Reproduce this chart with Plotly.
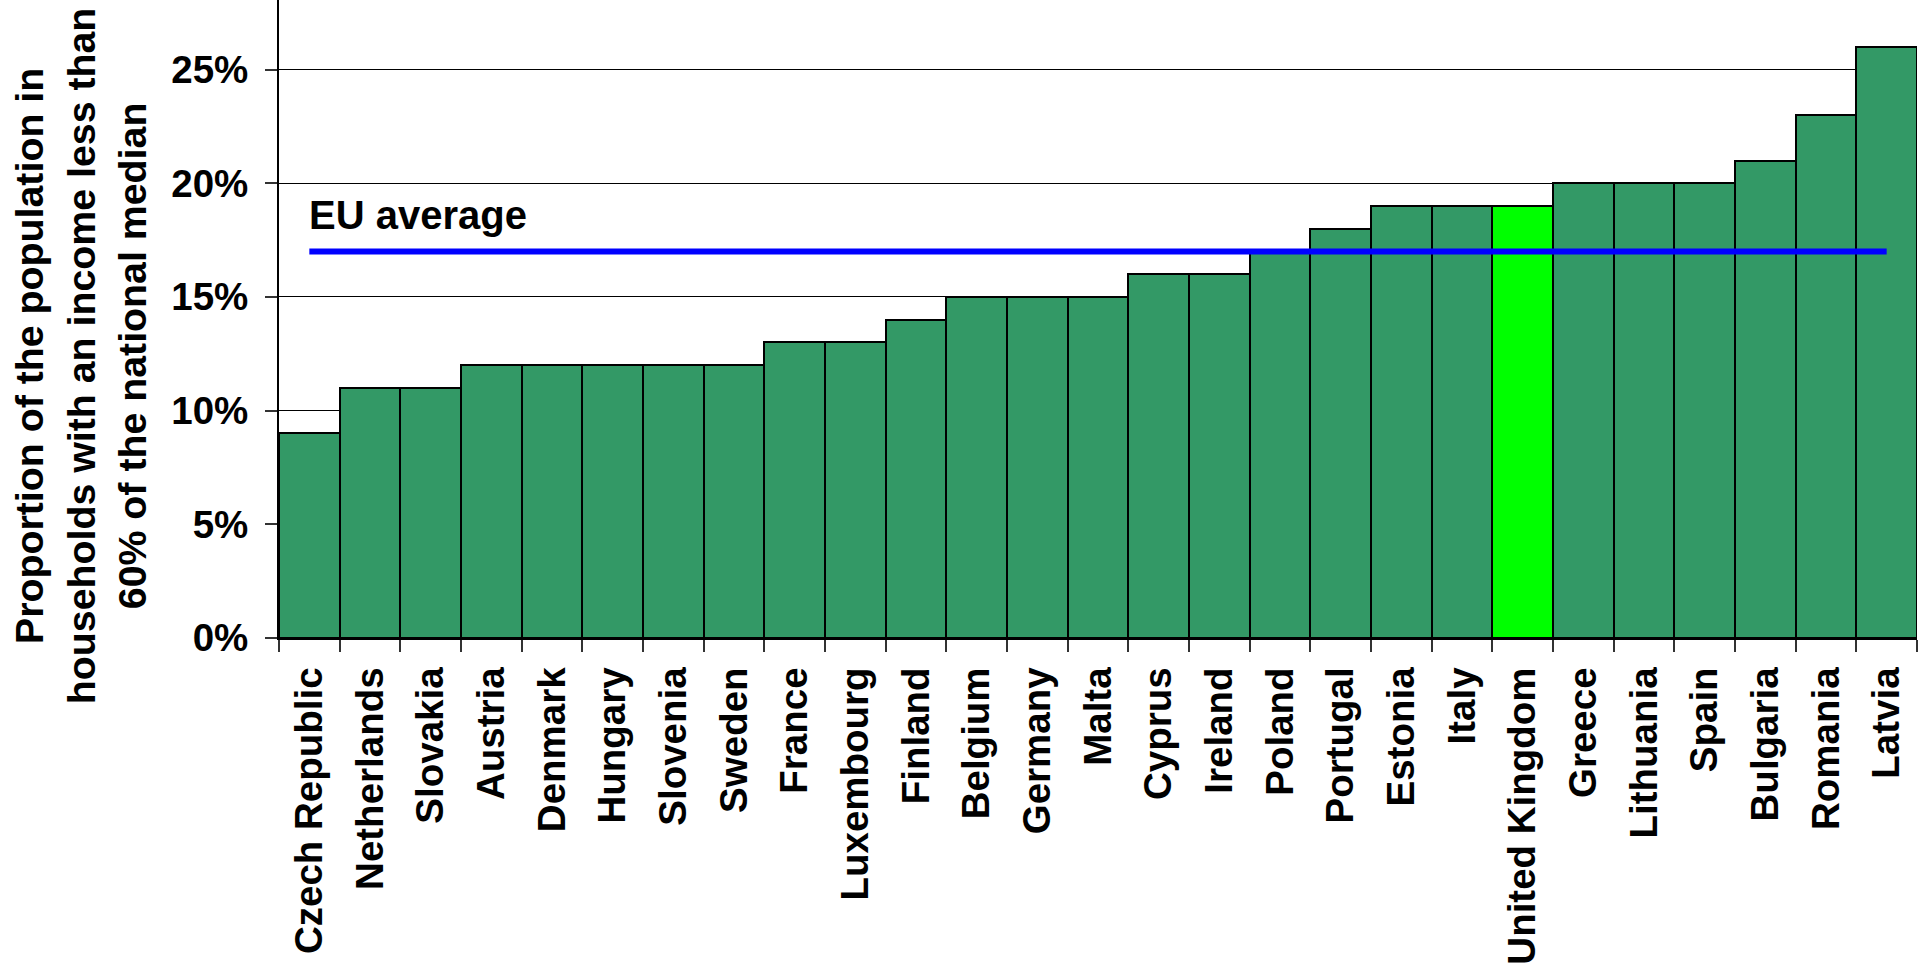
import plotly.graph_objects as go

countries = ["Czech Republic", "Netherlands", "Slovakia", "Austria", "Denmark", "Hungary",
             "Slovenia", "Sweden", "France", "Luxembourg", "Finland", "Belgium", "Germany",
             "Malta", "Cyprus", "Ireland", "Poland", "Portugal", "Estonia", "Italy",
             "United Kingdom", "Greece", "Lithuania", "Spain", "Bulgaria", "Romania", "Latvia"]
poverty_rate = [9, 11, 11, 12, 12, 12, 12, 12, 13, 13, 14, 15, 15, 15, 16, 16, 17, 18,
                19, 19, 19, 20, 20, 20, 21, 23, 26]
eu_average = 17
highlight_country = "United Kingdom"
y_tick_values = [0, 5, 10, 15, 20, 25]
y_tick_labels = ["0%", "5%", "10%", "15%", "20%", "25%"]
y_title = "Proportion of the population in<br>households with an income less than<br>60% of the national median"
eu_label = "EU average"

BAR_COLOR = "#339966"
HIGHLIGHT_COLOR = "#00FF00"
FONT = "Arial, 'Liberation Sans', sans-serif"
FS = 38.5

colors = [HIGHLIGHT_COLOR if c == highlight_country else BAR_COLOR for c in countries]

fig = go.Figure()
fig.add_trace(go.Bar(
    x=countries, y=poverty_rate,
    marker=dict(color=colors, line=dict(color="black", width=2)),
    showlegend=False, hoverinfo="x+y",
))
fig.add_trace(go.Scatter(
    x=countries, y=[eu_average] * len(countries),
    mode="lines", line=dict(color="#0000FF", width=6),
    showlegend=False, hoverinfo="skip",
))

fig.add_annotation(
    x=countries[0], y=eu_average, xref="x", yref="y",
    text=eu_label, showarrow=False, xanchor="left", yanchor="middle",
    xshift=-2, yshift=36,
    font=dict(family=FONT, size=40, color="black", weight="bold"),
)

fig.add_annotation(
    x=-0.121, y=0.443, xref="paper", yref="paper",
    text=y_title, showarrow=False, textangle=-90,
    xanchor="center", yanchor="middle",
    font=dict(family=FONT, size=39.3, color="black", weight="bold"),
)

fig.update_layout(
    width=1919, height=964,
    margin=dict(l=279, r=2, t=0, b=326),
    paper_bgcolor="white", plot_bgcolor="white",
    bargap=0,
    font=dict(family=FONT, size=FS, color="black", weight="bold"),
)
fig.update_xaxes(
    type="category", tickangle=-90, tickson="boundaries",
    ticks="outside", ticklen=12, tickcolor="#333333", tickwidth=1.5,
    ticklabelstandoff=12,
    showline=True, linecolor="black", linewidth=2,
    showgrid=False,
    tickfont=dict(family=FONT, size=FS, color="black", weight="bold"),
)
fig.update_yaxes(
    range=[0, 28.06], tickvals=y_tick_values, ticktext=y_tick_labels,
    ticks="outside", ticklen=12, tickcolor="#333333", tickwidth=1.5,
    ticklabelstandoff=9,
    showline=True, linecolor="black", linewidth=2,
    showgrid=True, gridcolor="black", gridwidth=1,
    zeroline=False,
    tickfont=dict(family=FONT, size=FS, color="black", weight="bold"),
)

fig.write_html("out.html", config={"displayModeBar": False},
               post_script="document.body.style.margin='0';")
